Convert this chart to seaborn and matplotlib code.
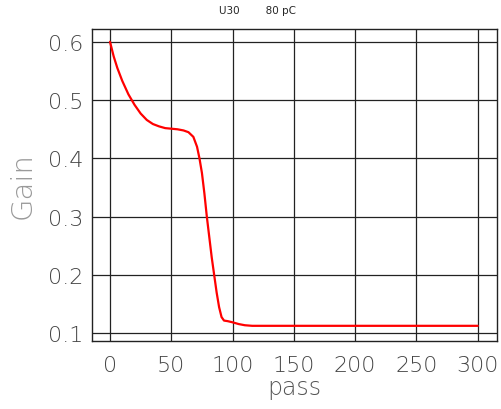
import matplotlib
import numpy as np
import pandas as pd
import seaborn as sns

matplotlib.use('Agg')
import matplotlib.pyplot as plt

# --------------------------------------------------------------------

passes = [0, 3, 6, 10, 15, 20, 25, 30, 35, 40, 45, 50, 55, 60, 64, 68, 71,
          73, 75, 77, 79, 81, 83, 85, 87, 89, 91, 93, 96, 100, 105, 110,
          116, 130, 160, 200, 250, 300]
gain = [0.600, 0.575, 0.555, 0.533, 0.510, 0.492, 0.477, 0.466, 0.459, 0.455,
        0.452, 0.451, 0.450, 0.448, 0.445, 0.437, 0.420, 0.400, 0.375, 0.340,
        0.300, 0.265, 0.230, 0.200, 0.170, 0.145, 0.128, 0.122, 0.121, 0.119,
        0.116, 0.114, 0.113, 0.113, 0.113, 0.113, 0.113, 0.113]

df = pd.DataFrame({"pass": passes, "Gain": gain})

sns.set_style("white")
plt.rcParams['font.family'] = ['DejaVu Sans']

fig = plt.figure(figsize=(5.01, 4.10), dpi=100)
ax = fig.add_axes([0.1836, 0.1659, 0.8084, 0.761])

sns.lineplot(data=df, x="pass", y="Gain", color="red", linewidth=1.6, ax=ax)

ax.set_xlim(-14.7, 315.7)
ax.set_ylim(0.087, 0.622)
ax.set_xticks([0, 50, 100, 150, 200, 250, 300])
ax.set_yticks([0.1, 0.2, 0.3, 0.4, 0.5, 0.6])
ax.grid(True, color="#222222", linewidth=0.9)
ax.set_axisbelow(True)
for s in ax.spines.values():
    s.set_color("#222222")
    s.set_linewidth(1.0)

ax.tick_params(length=0, labelsize=16, labelcolor="#444444")
ax.tick_params(axis='x', pad=10)
ax.tick_params(axis='y', pad=6)
for lab in ax.get_xticklabels() + ax.get_yticklabels():
    lab.set_fontweight("light")

ax.set_xlabel("pass", fontsize=17, color="#555555", fontweight="light", labelpad=0)
ax.set_ylabel("Gain", fontsize=21, color="#999999", fontweight="light", labelpad=8)

fig.text(0.513, 0.973, "U30        80 pC", fontsize=7.5, ha="center", va="center")

fig.savefig("out.png", dpi=100)
